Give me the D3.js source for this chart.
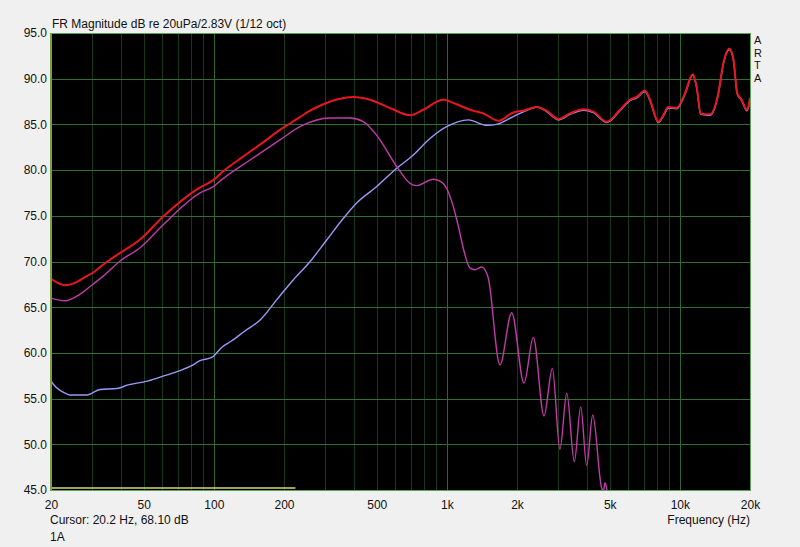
<!DOCTYPE html>
<html>
<head>
<meta charset="utf-8">
<style>
  body { margin: 0; background: #f0f0f0; }
  svg { display: block; }
  text { font-family: "Liberation Sans", Arial, sans-serif; font-size: 12px; fill: #111; }
</style>
</head>
<body>
<div id="chart"></div>
<script src="https://d3js.org/d3.v7.min.js"></script>
<script>

// summed response (red)
var sumFreq = [20, 23, 26, 28, 30.4, 32.5, 35.2, 38.3, 48.2, 60.5, 87.2, 99.4, 110, 134, 166, 192, 212, 234, 259, 295, 340, 397, 468, 570, 695, 792, 965, 1102, 1257, 1434, 1663, 1928, 2128, 2430, 2682, 3008, 3378, 3850, 4252, 4853, 5534, 6109, 6528, 7087, 7444, 8083, 8492, 8922, 9692, 10520, 11354, 11810, 12288, 13470, 14622, 15362, 16302, 16960, 17642, 18426, 19356, 19666, 20000]
var sumDb = [68.1, 67.4, 67.8, 68.3, 68.8, 69.4, 70.05, 70.7, 72.4, 74.9, 78.1, 78.9, 79.9, 81.5, 83.2, 84.4, 85.1, 85.8, 86.5, 87.2, 87.75, 88.0, 87.7, 86.8, 86.0, 86.6, 87.7, 87.2, 86.6, 86.2, 85.4, 86.3, 86.5, 86.9, 86.5, 85.6, 86.2, 86.65, 86.4, 85.3, 86.6, 87.7, 88.0, 88.7, 87.7, 85.3, 86.0, 86.9, 86.8, 88.4, 90.5, 89.1, 86.2, 86.1, 88.4, 91.7, 93.3, 92.2, 88.4, 87.7, 86.6, 86.9, 87.9]

// low-pass section (magenta)
var lowFreq = [20, 23, 26.2, 29.9, 33.5, 39.6, 48.2, 60.5, 87.2, 99.4, 110, 143, 192, 234, 315, 384, 438, 500, 609, 695, 742, 875, 934, 982, 1066, 1102, 1257, 1321, 1411, 1502, 1690, 1898, 2144, 2350, 2612, 2836, 3058, 3270, 3524, 3754, 3982, 4227, 4618, 4700, 4774, 4900, 5100]
var lowDb = [66.0, 65.7, 66.3, 67.4, 68.4, 70.05, 71.5, 74.0, 77.5, 78.2, 79.1, 81.1, 83.3, 84.75, 85.7, 85.7, 85.3, 83.8, 80.4, 78.55, 78.3, 79.0, 78.8, 78.3, 76.0, 74.6, 69.3, 69.1, 69.4, 68.3, 58.7, 64.4, 56.7, 61.7, 53.1, 58.3, 49.45, 55.6, 48.1, 54.1, 47.7, 53.2, 45.2, 44.9, 45.8, 44.5, 42.0]

// high-pass section (blue)
var highFreq = [20, 20.1, 23, 24.1, 28.5, 32.5, 38.3, 42.9, 50.6, 59.7, 70.4, 80.3, 87.2, 97.9, 108, 119, 136, 158, 186, 219, 259, 305, 359, 410, 500, 609, 718, 833, 998, 1236, 1483, 1637, 1928, 2350, 2430, 2682, 3008, 3378, 3850, 4252, 4853, 5534, 6109, 6528, 7087, 7444, 8083, 8492, 8922, 9692, 10520, 11354, 11810, 12288, 13470, 14622, 15362, 16302, 16960, 17642, 18426, 19356, 19666, 20000]
var highDb = [57.0, 56.85, 55.6, 55.4, 55.4, 56.0, 56.1, 56.5, 56.85, 57.4, 58.0, 58.6, 59.15, 59.5, 60.6, 61.3, 62.4, 63.6, 65.8, 67.97, 70.0, 72.35, 74.7, 76.4, 78.2, 80.2, 81.65, 83.3, 84.75, 85.5, 84.9, 85.0, 85.85, 86.8, 86.9, 86.4, 85.5, 86.1, 86.55, 86.3, 85.2, 86.5, 87.6, 87.9, 88.6, 87.6, 85.2, 85.9, 86.8, 86.7, 88.3, 90.4, 89.0, 86.1, 86.0, 88.3, 91.6, 93.2, 92.1, 88.3, 87.6, 86.5, 86.8, 87.8]

var xTickVals = [20, 50, 100, 200, 500, 1000, 2000, 5000, 10000, 20000]
var xTickText = ["20", "50", "100", "200", "500", "1k", "2k", "5k", "10k", "20k"]
var yTickVals = [45, 50, 55, 60, 65, 70, 75, 80, 85, 90, 95]

var width = 800, height = 547
var margin = {left: 51, right: 50, top: 33, bottom: 57}

var svg = d3.select("#chart").append("svg")
    .attr("width", width)
    .attr("height", height)

var x = d3.scaleLog().domain([20, 20000]).range([margin.left, width - margin.right])
var y = d3.scaleLinear().domain([45, 95]).range([height - margin.bottom, margin.top])

// plot background
svg.append("rect")
    .attr("x", x(20)).attr("y", y(95))
    .attr("width", x(20000) - x(20)).attr("height", y(45) - y(95))
    .attr("fill", "#000")

// vertical grid: every 1-2-...-9 step of each decade
var vGrid = []
;[10, 100, 1000, 10000].forEach(function(dec) {
  for (var k = 1; k < 10; k++) {
    var f = dec * k
    if (f > 20 && f < 20000) vGrid.push(f)
  }
})
svg.append("g").selectAll("line")
  .data(vGrid).enter().append("line")
    .attr("x1", function(d) { return Math.round(x(d)) + 0.5 })
    .attr("x2", function(d) { return Math.round(x(d)) + 0.5 })
    .attr("y1", y(95)).attr("y2", y(45))
    .attr("stroke", function(d) { return [100, 1000, 10000].indexOf(d) >= 0 ? "#2f6630" : "#17391b" })
    .attr("stroke-width", 1)

// horizontal grid
svg.append("g").selectAll("line")
  .data(yTickVals.slice(1, -1)).enter().append("line")
    .attr("x1", x(20)).attr("x2", x(20000))
    .attr("y1", function(d) { return Math.round(y(d)) + 0.5 })
    .attr("y2", function(d) { return Math.round(y(d)) + 0.5 })
    .attr("stroke", "#336e33")
    .attr("stroke-width", 1)

// yellow range marker at the bottom
svg.append("line")
    .attr("x1", x(20)).attr("x2", x(224))
    .attr("y1", y(45) - 2).attr("y2", y(45) - 2)
    .attr("stroke", "#d8d870").attr("stroke-width", 1.5)

// curves
svg.append("clipPath").attr("id", "plotclip")
  .append("rect")
    .attr("x", x(20)).attr("y", y(95))
    .attr("width", x(20000) - x(20)).attr("height", y(45) - y(95))

var line = d3.line()
    .x(function(d) { return x(d[0]) })
    .y(function(d) { return y(d[1]) })
    .curve(d3.curveMonotoneX)

var curves = [
  {f: highFreq, v: highDb, color: "#9a9af5", w: 1.4},
  {f: lowFreq, v: lowDb, color: "#c03ca8", w: 1.4},
  {f: sumFreq, v: sumDb, color: "#e8161e", w: 2}
]
var cg = svg.append("g").attr("clip-path", "url(#plotclip)")
curves.forEach(function(c) {
  cg.append("path")
    .datum(d3.zip(c.f, c.v))
    .attr("d", line)
    .attr("fill", "none")
    .attr("stroke", c.color)
    .attr("stroke-width", c.w)
    .attr("stroke-linejoin", "round")
})

// frame
svg.append("rect")
    .attr("x", x(20) + 0.5).attr("y", y(95) + 0.5)
    .attr("width", x(20000) - x(20)).attr("height", y(45) - y(95))
    .attr("fill", "none").attr("stroke", "#5ea05a")
svg.append("line")
    .attr("x1", x(20)).attr("x2", x(20))
    .attr("y1", y(95)).attr("y2", y(45) + 1)
    .attr("stroke", "#7aa040").attr("stroke-width", 2)

// axes
var yAxis = d3.axisLeft(y).tickValues(yTickVals).tickSize(0).tickPadding(4)
    .tickFormat(function(d) { return d.toFixed(1) })
var gy = svg.append("g").attr("transform", "translate(" + x(20) + ",0)").call(yAxis)
gy.select(".domain").remove()
gy.selectAll("text").attr("fill", null)

var xAxis = d3.axisBottom(x).tickValues(xTickVals).tickSize(0).tickPadding(10)
    .tickFormat(function(d, i) { return xTickText[i] })
var gx = svg.append("g").attr("transform", "translate(0," + y(45) + ")").call(xAxis)
gx.select(".domain").remove()
gx.selectAll("text").attr("fill", null)
gx.attr("font-family", null).attr("font-size", null)
gy.attr("font-family", null).attr("font-size", null)

// texts
svg.append("text").attr("x", 52).attr("y", 28).text("FR Magnitude dB re 20uPa/2.83V (1/12 oct)")
svg.append("text").attr("x", 50).attr("y", 524).text("Cursor: 20.2 Hz, 68.10 dB")
svg.append("text").attr("x", 50).attr("y", 541).text("1A")
svg.append("text").attr("x", 750).attr("y", 524).attr("text-anchor", "end").text("Frequency (Hz)")
;["A", "R", "T", "A"].forEach(function(ch, i) {
  svg.append("text").attr("x", 754).attr("y", 44 + i * 12.7).style("font-size", "11px").text(ch)
})

</script>
</body>
</html>
